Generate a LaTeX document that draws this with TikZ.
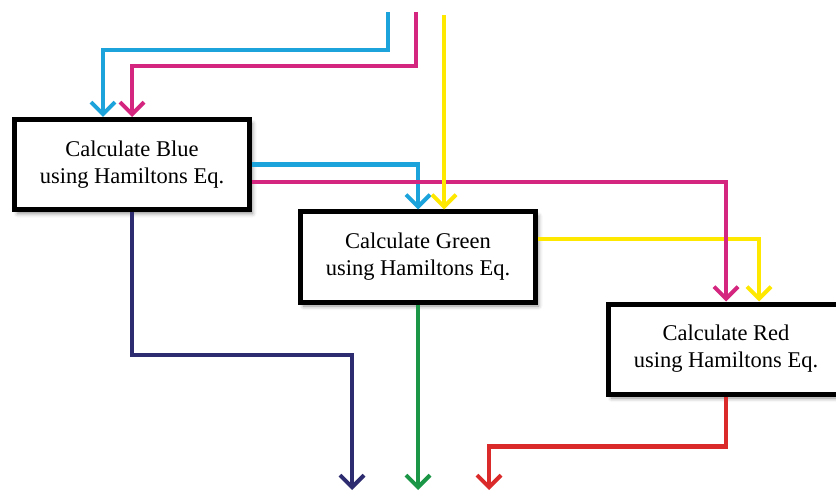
\documentclass[tikz,border=0pt]{standalone}
\usepackage{fontspec}
\setmainfont{Liberation Serif}
\usetikzlibrary{arrows.meta,shadows.blur}
\definecolor{cyanflow}{RGB}{28,163,220}
\definecolor{magflow}{RGB}{212,38,126}
\definecolor{yelflow}{RGB}{255,232,0}
\definecolor{navyflow}{RGB}{46,44,112}
\definecolor{greenflow}{RGB}{26,150,70}
\definecolor{redflow}{RGB}{219,42,42}
\begin{document}
\begin{tikzpicture}[x=1pt,y=-1pt,
  calcbox/.style={rectangle,draw=black,line width=5pt,fill=white,minimum width=235pt,minimum height=90pt,align=center,font=\fontsize{22.5}{27}\selectfont,blur shadow={shadow xshift=3pt,shadow yshift=-4pt,shadow blur radius=4pt,shadow opacity=45}},
  flow/.style={line width=4.2pt,-{Straight Barb[length=12pt,width=24pt,line width=4pt]}}]
\clip (0,0) rectangle (836,492);
% boxes
\node[calcbox] (blue) at (132,164.5) {Calculate Blue\\using Hamiltons Eq.};
\node[calcbox] (green) at (418,257) {Calculate Green\\using Hamiltons Eq.};
\node[calcbox] (red) at (726,349) {Calculate Red\\using Hamiltons Eq.};
% free ends
\coordinate (cyanin) at (388,12);
\coordinate (magin) at (416,12);
\coordinate (yelin) at (444,15);
\coordinate (navyout) at (352,490);
\coordinate (greenout) at (418,490);
\coordinate (redout) at (489,490);
% inputs to blue
\draw[flow,cyanflow] (cyanin) -- ++(0,38) -| ([xshift=-29pt]blue.north);
\draw[flow,magflow] (magin) -- ++(0,54) -| (blue.north);
% blue to green and red
\draw[flow,cyanflow] (blue.east) -| (green.north);
\draw[flow,yelflow] ([yshift=18pt]green.east) -| ([xshift=33pt]red.north);
\draw[flow,magflow] ([yshift=-17.5pt]blue.east) -| (red.north);
\draw[flow,yelflow] (yelin) -- ([xshift=26pt]green.north);
% outputs
\draw[flow,navyflow] (blue.south) -- ++(0,143) -| (navyout);
\draw[flow,greenflow] (green.south) -- (greenout);
\draw[flow,redflow] (red.south) -- ++(0,50) -| (redout);
\end{tikzpicture}
\end{document}
